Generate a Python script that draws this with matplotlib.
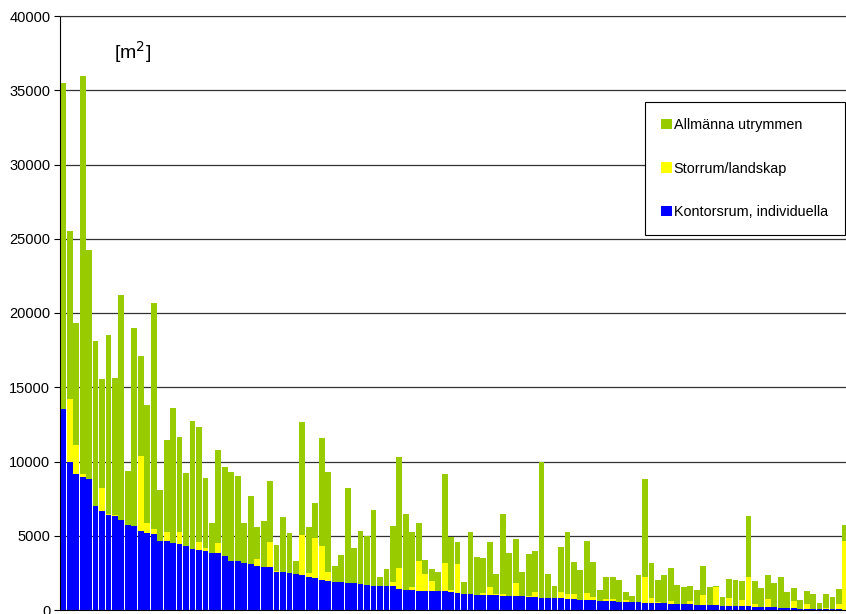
import numpy as np
import matplotlib
matplotlib.use("Agg")
import matplotlib.pyplot as plt
from matplotlib.patches import Patch

plt.rcParams['font.family'] = ['Liberation Sans', 'DejaVu Sans']

# Ytor per byggnad [m2], sorterade efter kontorsrum
kontorsrum = [13520, 9950, 9190, 8930, 8830, 6980, 6670, 6400, 6330, 6040,
              5700, 5640, 5320, 5200, 5145, 4660, 4620, 4490, 4450, 4280,
              4120, 4070, 3950, 3870, 3830, 3660, 3320, 3300, 3140, 3090,
              2930, 2920, 2910, 2580, 2530, 2470, 2420, 2350, 2240, 2130,
              2020, 1970, 1910, 1860, 1820, 1790, 1750, 1680, 1640, 1630,
              1600, 1590, 1410, 1370, 1350, 1300, 1300, 1290, 1280, 1260,
              1230, 1140, 1080, 1070, 1030, 1010, 1000, 990, 970, 960,
              950, 920, 900, 860, 830, 830, 790, 780, 740, 740,
              700, 680, 670, 630, 610, 580, 560, 550, 520, 510,
              470, 470, 450, 440, 430, 400, 400, 380, 370, 360,
              340, 330, 290, 290, 290, 280, 250, 230, 220, 200,
              180, 160, 120, 120, 100, 90, 80, 70, 60, 50,
              40, 30]
storrum = [0, 4290, 1950, 260, 0, 0, 1540, 90, 100, 0,
           0, 0, 5080, 670, 335, 0, 630, 0, 800, 0,
           0, 530, 220, 0, 650, 0, 0, 0, 0, 0,
           500, 0, 1640, 70, 0, 0, 0, 2700, 220, 2690,
           2310, 610, 0, 0, 0, 0, 0, 0, 0, 0,
           0, 320, 1390, 0, 170, 2020, 1120, 680, 0, 1880,
           140, 1950, 0, 0, 0, 130, 520, 100, 110, 0,
           840, 0, 60, 370, 0, 0, 0, 410, 340, 340,
           0, 440, 180, 0, 130, 160, 0, 120, 0, 0,
           1730, 320, 110, 0, 200, 0, 0, 250, 0, 650,
           0, 1230, 0, 500, 0, 420, 1950, 170, 0, 540,
           0, 0, 0, 500, 0, 320, 0, 0, 100, 0,
           360, 4610]
allmanna = [21960, 11260, 8220, 26790, 15410, 11140, 7340, 12030, 9170, 15140,
            3650, 13320, 6680, 7960, 15180, 3390, 6170, 9100, 6400, 4960,
            8640, 7730, 4710, 2000, 6280, 5980, 5980, 5735, 2710, 4600,
            2130, 3090, 4150, 1720, 3700, 2710, 850, 7620, 3100, 2380,
            7220, 6720, 1030, 1840, 6390, 2360, 3590, 3320, 5110, 610,
            1160, 3720, 7510, 5090, 3700, 2530, 940, 790, 1300, 6010,
            3560, 1460, 780, 4150, 2560, 2360, 3080, 1330, 5380, 2850,
            2990, 1660, 2810, 2760, 9150, 1590, 800, 3070, 4190, 2130,
            1990, 3540, 2400, 720, 1460, 1460, 1480, 520, 440, 1870,
            6610, 2350, 1460, 1910, 2200, 1300, 1120, 960, 1000, 1970,
            1180, 30, 560, 1300, 1730, 1230, 4150, 1530, 1240, 1610,
            1610, 2080, 1110, 840, 570, 870, 1000, 420, 890, 850,
            990, 1080]

labels = ['Kontorsrum, individuella', 'Storrum/landskap', 'Allmänna utrymmen']
colors = ['#0000FF', '#FFFF00', '#99CC00']

blue = np.array(kontorsrum)
yellow = np.array(storrum)
green = np.array(allmanna)
x = np.arange(len(blue))

fig = plt.figure(figsize=(8.46, 6.14), dpi=100)
ax = fig.add_axes([60 / 846, 4 / 614, 786 / 846, 594 / 614])

w = 0.9
ax.bar(x, blue, width=w, color=colors[0], linewidth=0)
ax.bar(x, yellow, width=w, bottom=blue, color=colors[1], linewidth=0)
ax.bar(x, green, width=w, bottom=blue + yellow, color=colors[2], linewidth=0)

ax.set_xlim(-0.5, -0.5 + 786 / 6.464)
ax.set_ylim(0, 40000)
ax.set_yticks(np.arange(0, 40001, 5000))
ax.set_xticks([])
ax.tick_params(axis='y', labelsize=10.5, length=4, width=0.8, pad=3)
ax.yaxis.grid(True, color='#333333', linewidth=0.9)
ax.set_axisbelow(True)

ax.spines['right'].set_visible(False)
ax.spines['top'].set_color('#333333')
ax.spines['left'].set_color('black')
ax.spines['bottom'].set_color('black')

ax.text(10.8, 37580, '[m$^2$]', fontsize=14, ha='center', va='center')

handles = [Patch(facecolor=colors[i], edgecolor='none') for i in (2, 1, 0)]
leg = ax.legend(handles, [labels[i] for i in (2, 1, 0)],
                loc='upper left', bbox_to_anchor=(0.744, 0.635, 0.2545, 0.22),
                mode='expand', fontsize=10.4, labelspacing=2.05,
                handlelength=0.75, handleheight=0.75, handletextpad=0.15,
                borderpad=1.1, borderaxespad=0, fancybox=False,
                framealpha=1, edgecolor='black')
leg.get_frame().set_linewidth(0.8)

fig.savefig('out.png', dpi=100)
